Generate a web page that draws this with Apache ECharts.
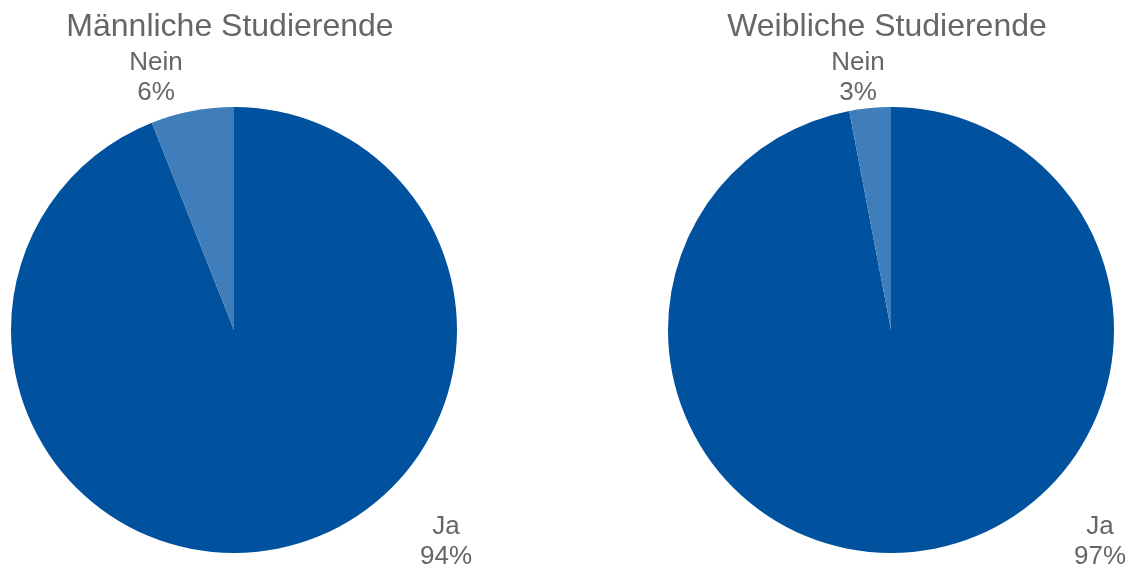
<!DOCTYPE html>
<html>
<head>
<meta charset="utf-8">
<script src="https://cdn.jsdelivr.net/npm/echarts@6/dist/echarts.min.js"></script>
<style>
  html, body { margin: 0; padding: 0; background: #fff; }
  #chart { width: 1129px; height: 569px; }
</style>
</head>
<body>
<div id="chart"></div>
<script>
// Daten
const categories = ['Ja', 'Nein'];
const maleValues = [94, 6];
const femaleValues = [97, 3];
const chartTitles = ['Männliche Studierende', 'Weibliche Studierende'];

const colors = ['#00529F', '#3F7EBA'];
const textColor = '#666666';
const fontFamily = '"Liberation Sans", Arial, sans-serif';

// Label-Positionen (wie im Original, "beste Anpassung")
const labelPos = [
  { Ja: [446, 542], Nein: [156, 78] },
  { Ja: [1100, 542], Nein: [858, 78] }
];

function makePie(index, values, center) {
  return {
    type: 'pie',
    center: center,
    radius: 223,
    startAngle: 90,
    clockwise: true,
    silent: true,
    color: colors,
    itemStyle: { borderWidth: 0 },
    label: {
      show: true,
      position: 'outside',
      formatter: '{b}\n{c}%',
      color: textColor,
      fontSize: 26,
      lineHeight: 30,
      fontFamily: fontFamily,
      align: 'center'
    },
    labelLine: { show: false },
    labelLayout: function (params) {
      const name = categories[params.dataIndex];
      const p = labelPos[index][name];
      return { x: p[0], y: p[1], align: 'center', verticalAlign: 'middle' };
    },
    data: categories.map((c, i) => ({ name: c, value: values[i] }))
  };
}

var myChart = echarts.init(document.getElementById('chart'));
var option = {
  animation: false,
  title: [
    {
      text: chartTitles[0],
      left: 225, top: 6,
      textAlign: 'center',
      textStyle: { color: textColor, fontSize: 32, fontWeight: 'normal', fontFamily: fontFamily }
    },
    {
      text: chartTitles[1],
      left: 882, top: 6,
      textAlign: 'center',
      textStyle: { color: textColor, fontSize: 32, fontWeight: 'normal', fontFamily: fontFamily }
    }
  ],
  series: [
    makePie(0, maleValues, [234, 330]),
    makePie(1, femaleValues, [891, 330])
  ]
};
myChart.setOption(option);
</script>
</body>
</html>
